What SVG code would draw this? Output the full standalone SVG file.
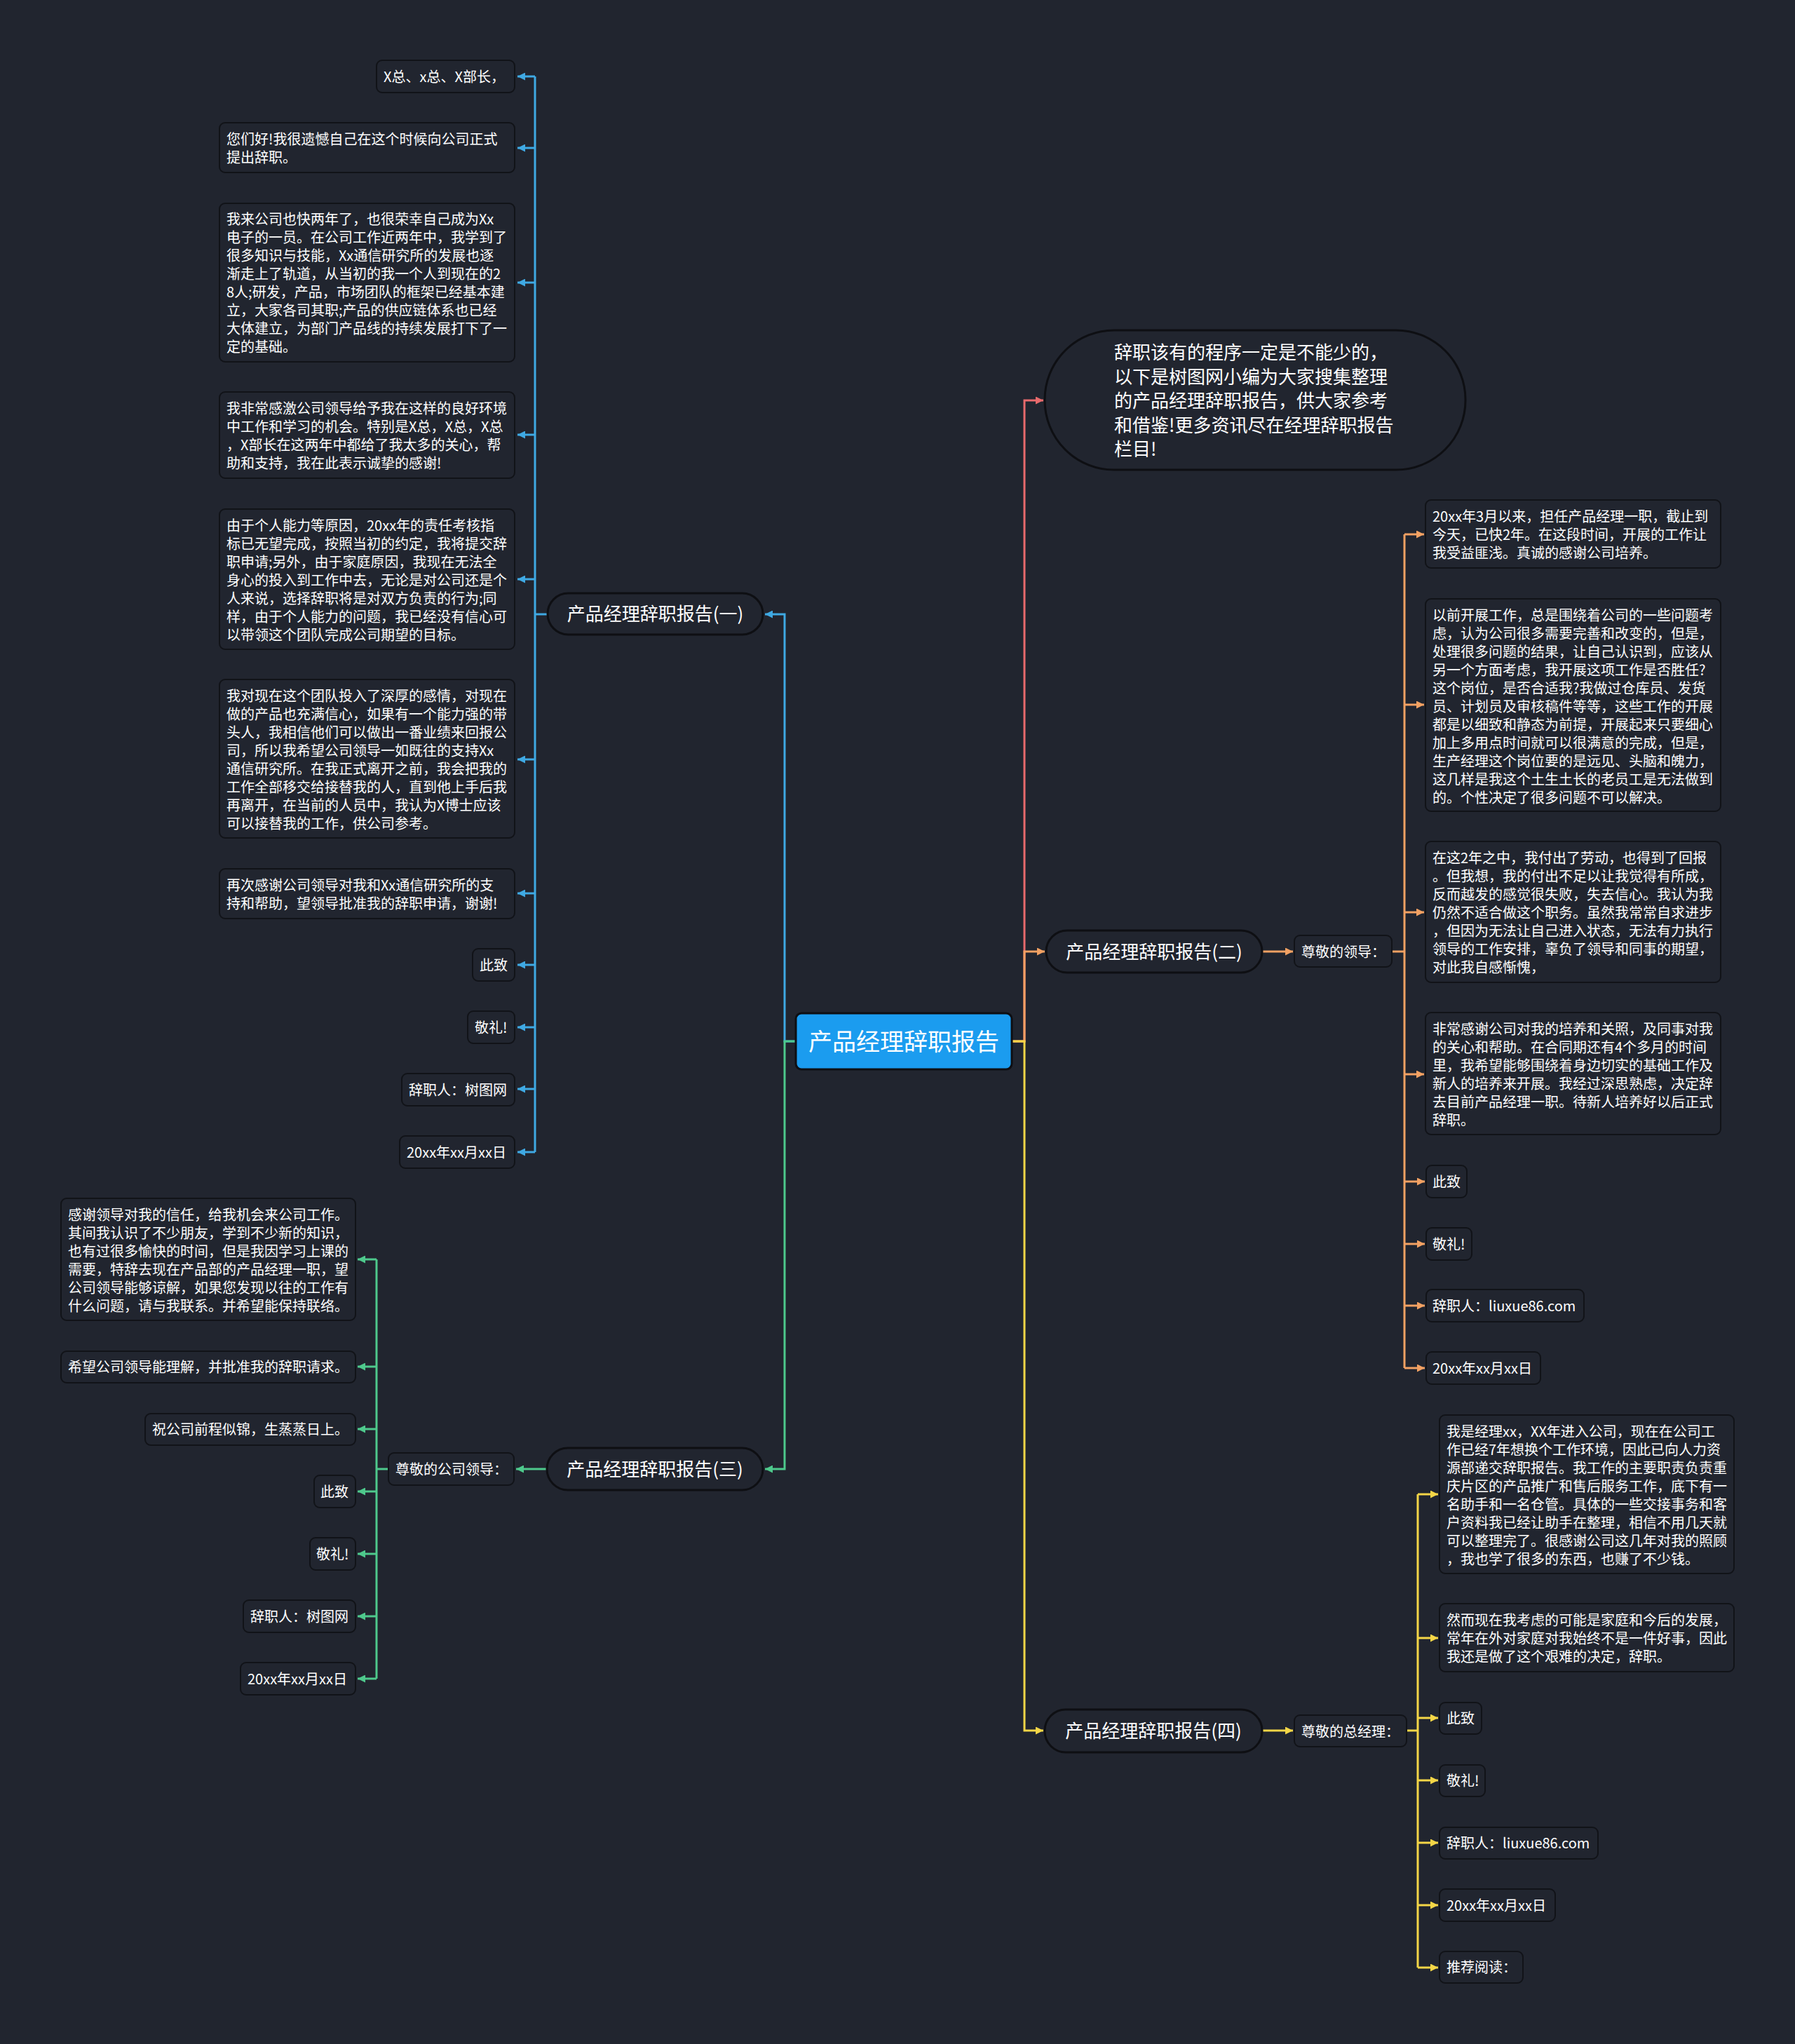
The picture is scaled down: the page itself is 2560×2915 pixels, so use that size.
<svg xmlns="http://www.w3.org/2000/svg" width="2560" height="2915" viewBox="0 0 2560 2915">
<defs>
<style>
.n rect{fill:#21252f;stroke:#111318;stroke-width:2}
.b rect{fill:#21252f;stroke:#0e0f13;stroke-width:3}
text{font-family:'Noto Sans CJK SC','Noto Sans',sans-serif;fill:#ffffff}
.t{font-size:20px}
.bt{font-size:26px;text-anchor:middle}
.c path{fill:none;stroke-width:3}
.blue{stroke:#3fa9e3}
.green{stroke:#4ec98c}
.red{stroke:#e86a6c}
.orange{stroke:#f2a163}
.yellow{stroke:#f4d647}
</style>
<marker id="ab" viewBox="0 0 10 10" refX="10" refY="5" markerWidth="11" markerHeight="11" markerUnits="userSpaceOnUse" orient="auto"><path d="M0,0 L10,5 L0,10 z" fill="#3fa9e3"/></marker>
<marker id="ag" viewBox="0 0 10 10" refX="10" refY="5" markerWidth="11" markerHeight="11" markerUnits="userSpaceOnUse" orient="auto"><path d="M0,0 L10,5 L0,10 z" fill="#4ec98c"/></marker>
<marker id="ar" viewBox="0 0 10 10" refX="10" refY="5" markerWidth="11" markerHeight="11" markerUnits="userSpaceOnUse" orient="auto"><path d="M0,0 L10,5 L0,10 z" fill="#e86a6c"/></marker>
<marker id="ao" viewBox="0 0 10 10" refX="10" refY="5" markerWidth="11" markerHeight="11" markerUnits="userSpaceOnUse" orient="auto"><path d="M0,0 L10,5 L0,10 z" fill="#f2a163"/></marker>
<marker id="ay" viewBox="0 0 10 10" refX="10" refY="5" markerWidth="11" markerHeight="11" markerUnits="userSpaceOnUse" orient="auto"><path d="M0,0 L10,5 L0,10 z" fill="#f4d647"/></marker>
</defs>
<rect x="0" y="0" width="2560" height="2915" fill="#21252f"/>

<g id="connectors" class="c">
<path class="blue" d="M1135,1485 H1119 V876 H1091" marker-end="url(#ab)"/>
<path class="blue" d="M781,876 H763"/>
<path class="blue" d="M763,109 V1643"/>
<path class="blue" d="M763,109 H738" marker-end="url(#ab)"/>
<path class="blue" d="M763,211 H738" marker-end="url(#ab)"/>
<path class="blue" d="M763,403 H738" marker-end="url(#ab)"/>
<path class="blue" d="M763,620 H738" marker-end="url(#ab)"/>
<path class="blue" d="M763,826 H738" marker-end="url(#ab)"/>
<path class="blue" d="M763,1083 H738" marker-end="url(#ab)"/>
<path class="blue" d="M763,1274 H738" marker-end="url(#ab)"/>
<path class="blue" d="M763,1376 H738" marker-end="url(#ab)"/>
<path class="blue" d="M763,1465 H738" marker-end="url(#ab)"/>
<path class="blue" d="M763,1553 H738" marker-end="url(#ab)"/>
<path class="blue" d="M763,1643 H738" marker-end="url(#ab)"/>

<path class="green" d="M1135,1485 H1119 V2095 H1091" marker-end="url(#ag)"/>
<path class="green" d="M780,2095 H736" marker-end="url(#ag)"/>
<path class="green" d="M554,2095 H537"/>
<path class="green" d="M537,1796 V2394"/>
<path class="green" d="M537,1796 H510" marker-end="url(#ag)"/>
<path class="green" d="M537,1949 H510" marker-end="url(#ag)"/>
<path class="green" d="M537,2038 H510" marker-end="url(#ag)"/>
<path class="green" d="M537,2127 H510" marker-end="url(#ag)"/>
<path class="green" d="M537,2216 H510" marker-end="url(#ag)"/>
<path class="green" d="M537,2305 H510" marker-end="url(#ag)"/>
<path class="green" d="M537,2394 H510" marker-end="url(#ag)"/>

<path class="red" d="M1443,1485 H1461 V571 H1488" marker-end="url(#ar)"/>

<path class="orange" d="M1443,1485 H1461 V1357 H1490" marker-end="url(#ao)"/>
<path class="orange" d="M1800,1357 H1844" marker-end="url(#ao)"/>
<path class="orange" d="M1985,1357 H2003"/>
<path class="orange" d="M2003,762 V1951"/>
<path class="orange" d="M2003,762 H2031" marker-end="url(#ao)"/>
<path class="orange" d="M2003,1005 H2031" marker-end="url(#ao)"/>
<path class="orange" d="M2003,1301 H2031" marker-end="url(#ao)"/>
<path class="orange" d="M2003,1532 H2031" marker-end="url(#ao)"/>
<path class="orange" d="M2003,1685 H2032" marker-end="url(#ao)"/>
<path class="orange" d="M2003,1774 H2032" marker-end="url(#ao)"/>
<path class="orange" d="M2003,1862 H2032" marker-end="url(#ao)"/>
<path class="orange" d="M2003,1951 H2032" marker-end="url(#ao)"/>

<path class="yellow" d="M1443,1485 H1461 V2468 H1488" marker-end="url(#ay)"/>
<path class="yellow" d="M1800,2468 H1844" marker-end="url(#ay)"/>
<path class="yellow" d="M2006,2468 H2022"/>
<path class="yellow" d="M2022,2131 V2806"/>
<path class="yellow" d="M2022,2131 H2051" marker-end="url(#ay)"/>
<path class="yellow" d="M2022,2336 H2051" marker-end="url(#ay)"/>
<path class="yellow" d="M2022,2450 H2051" marker-end="url(#ay)"/>
<path class="yellow" d="M2022,2539 H2051" marker-end="url(#ay)"/>
<path class="yellow" d="M2022,2628 H2051" marker-end="url(#ay)"/>
<path class="yellow" d="M2022,2717 H2051" marker-end="url(#ay)"/>
<path class="yellow" d="M2022,2806 H2051" marker-end="url(#ay)"/>
</g>

<g id="center">
<rect x="1135" y="1445" width="308" height="80" rx="8" fill="#1b9cef" stroke="#0e0f13" stroke-width="3"/>
<text x="1289" y="1498" font-size="34" text-anchor="middle">产品经理辞职报告</text>
</g>

<!-- Branch 1 -->
<g id="b1" class="b">
<rect x="781" y="846" width="307" height="59" rx="29.5"/>
<text class="bt" x="934.5" y="885">产品经理辞职报告(一)</text>
</g>
<g id="b1c1" class="n"><rect x="537" y="86" width="197" height="46" rx="8"/><text class="t" x="547" y="117">X总、x总、X部长，</text></g>
<g id="b1c2" class="n"><rect x="313" y="175" width="421" height="71" rx="8"/><text class="t" x="323" y="206"><tspan x="323">您们好!我很遗憾自己在这个时候向公司正式</tspan><tspan x="323" dy="26">提出辞职。</tspan></text></g>
<g id="b1c3" class="n"><rect x="313" y="290" width="421" height="226" rx="8"/><text class="t" x="323" y="320"><tspan x="323">我来公司也快两年了，也很荣幸自己成为Xx</tspan><tspan x="323" dy="26">电子的一员。在公司工作近两年中，我学到了</tspan><tspan x="323" dy="26">很多知识与技能，Xx通信研究所的发展也逐</tspan><tspan x="323" dy="26">渐走上了轨道，从当初的我一个人到现在的2</tspan><tspan x="323" dy="26">8人;研发，产品，市场团队的框架已经基本建</tspan><tspan x="323" dy="26">立，大家各司其职;产品的供应链体系也已经</tspan><tspan x="323" dy="26">大体建立，为部门产品线的持续发展打下了一</tspan><tspan x="323" dy="26">定的基础。</tspan></text></g>
<g id="b1c4" class="n"><rect x="313" y="559" width="421" height="123" rx="8"/><text class="t" x="323" y="590"><tspan x="323">我非常感激公司领导给予我在这样的良好环境</tspan><tspan x="323" dy="26">中工作和学习的机会。特别是X总，X总，X总</tspan><tspan x="323" dy="26">，X部长在这两年中都给了我太多的关心，帮</tspan><tspan x="323" dy="26">助和支持，我在此表示诚挚的感谢!</tspan></text></g>
<g id="b1c5" class="n"><rect x="313" y="726" width="421" height="200" rx="8"/><text class="t" x="323" y="757"><tspan x="323">由于个人能力等原因，20xx年的责任考核指</tspan><tspan x="323" dy="26">标已无望完成，按照当初的约定，我将提交辞</tspan><tspan x="323" dy="26">职申请;另外，由于家庭原因，我现在无法全</tspan><tspan x="323" dy="26">身心的投入到工作中去，无论是对公司还是个</tspan><tspan x="323" dy="26">人来说，选择辞职将是对双方负责的行为;同</tspan><tspan x="323" dy="26">样，由于个人能力的问题，我已经没有信心可</tspan><tspan x="323" dy="26">以带领这个团队完成公司期望的目标。</tspan></text></g>
<g id="b1c6" class="n"><rect x="313" y="969" width="421" height="226" rx="8"/><text class="t" x="323" y="1000"><tspan x="323">我对现在这个团队投入了深厚的感情，对现在</tspan><tspan x="323" dy="26">做的产品也充满信心，如果有一个能力强的带</tspan><tspan x="323" dy="26">头人，我相信他们可以做出一番业绩来回报公</tspan><tspan x="323" dy="26">司，所以我希望公司领导一如既往的支持Xx</tspan><tspan x="323" dy="26">通信研究所。在我正式离开之前，我会把我的</tspan><tspan x="323" dy="26">工作全部移交给接替我的人，直到他上手后我</tspan><tspan x="323" dy="26">再离开，在当前的人员中，我认为X博士应该</tspan><tspan x="323" dy="26">可以接替我的工作，供公司参考。</tspan></text></g>
<g id="b1c7" class="n"><rect x="313" y="1239" width="421" height="71" rx="8"/><text class="t" x="323" y="1270"><tspan x="323">再次感谢公司领导对我和Xx通信研究所的支</tspan><tspan x="323" dy="26">持和帮助，望领导批准我的辞职申请，谢谢!</tspan></text></g>
<g id="b1c8" class="n"><rect x="674" y="1353" width="60" height="46" rx="8"/><text class="t" x="684" y="1384">此致</text></g>
<g id="b1c9" class="n"><rect x="667" y="1442" width="67" height="46" rx="8"/><text class="t" x="677" y="1473">敬礼!</text></g>
<g id="b1c10" class="n"><rect x="573" y="1531" width="161" height="46" rx="8"/><text class="t" x="583" y="1562">辞职人：树图网</text></g>
<g id="b1c11" class="n"><rect x="570" y="1620" width="164" height="46" rx="8"/><text class="t" x="580" y="1651">20xx年xx月xx日</text></g>

<!-- Branch 3 -->
<g id="b3" class="b">
<rect x="780" y="2065" width="308" height="60" rx="30"/>
<text class="bt" x="934" y="2105">产品经理辞职报告(三)</text>
</g>
<g id="b3s" class="n"><rect x="554" y="2072" width="179" height="46" rx="8"/><text class="t" x="564" y="2103">尊敬的公司领导：</text></g>
<g id="b3c1" class="n"><rect x="87" y="1709" width="420" height="174" rx="8"/><text class="t" x="97" y="1740"><tspan x="97">感谢领导对我的信任，给我机会来公司工作。</tspan><tspan x="97" dy="26">其间我认识了不少朋友，学到不少新的知识，</tspan><tspan x="97" dy="26">也有过很多愉快的时间，但是我因学习上课的</tspan><tspan x="97" dy="26">需要，特辞去现在产品部的产品经理一职，望</tspan><tspan x="97" dy="26">公司领导能够谅解，如果您发现以往的工作有</tspan><tspan x="97" dy="26">什么问题，请与我联系。并希望能保持联络。</tspan></text></g>
<g id="b3c2" class="n"><rect x="87" y="1927" width="420" height="45" rx="8"/><text class="t" x="97" y="1957">希望公司领导能理解，并批准我的辞职请求。</text></g>
<g id="b3c3" class="n"><rect x="207" y="2016" width="300" height="45" rx="8"/><text class="t" x="217" y="2046">祝公司前程似锦，生蒸蒸日上。</text></g>
<g id="b3c4" class="n"><rect x="448" y="2104" width="59" height="46" rx="8"/><text class="t" x="457" y="2135">此致</text></g>
<g id="b3c5" class="n"><rect x="442" y="2193" width="65" height="46" rx="8"/><text class="t" x="451" y="2224">敬礼!</text></g>
<g id="b3c6" class="n"><rect x="347" y="2282" width="160" height="46" rx="8"/><text class="t" x="357" y="2313">辞职人：树图网</text></g>
<g id="b3c7" class="n"><rect x="343" y="2371" width="164" height="46" rx="8"/><text class="t" x="353" y="2402">20xx年xx月xx日</text></g>

<!-- Intro bubble -->
<g id="intro" class="b">
<rect x="1490" y="471" width="600" height="199" rx="99"/>
<text font-size="26"><tspan x="1589" y="512">辞职该有的程序一定是不能少的，</tspan><tspan x="1589" dy="34.5">以下是树图网小编为大家搜集整理</tspan><tspan x="1589" dy="34.5">的产品经理辞职报告，供大家参考</tspan><tspan x="1589" dy="34.5">和借鉴!更多资讯尽在经理辞职报告</tspan><tspan x="1589" dy="34.5">栏目!</tspan></text>
</g>

<!-- Branch 2 -->
<g id="b2" class="b">
<rect x="1492" y="1327" width="308" height="60" rx="30"/>
<text class="bt" x="1646" y="1367">产品经理辞职报告(二)</text>
</g>
<g id="b2s" class="n"><rect x="1846" y="1334" width="139" height="45" rx="8"/><text class="t" x="1856" y="1365">尊敬的领导：</text></g>
<g id="b2c1" class="n"><rect x="2033" y="713" width="421" height="97" rx="8"/><text class="t" x="2043" y="744"><tspan x="2043">20xx年3月以来，担任产品经理一职，截止到</tspan><tspan x="2043" dy="26">今天，已快2年。在这段时间，开展的工作让</tspan><tspan x="2043" dy="26">我受益匪浅。真诚的感谢公司培养。</tspan></text></g>
<g id="b2c2" class="n"><rect x="2033" y="854" width="421" height="303" rx="8"/><text class="t" x="2043" y="885"><tspan x="2043">以前开展工作，总是围绕着公司的一些问题考</tspan><tspan x="2043" dy="26">虑，认为公司很多需要完善和改变的，但是，</tspan><tspan x="2043" dy="26">处理很多问题的结果，让自己认识到，应该从</tspan><tspan x="2043" dy="26">另一个方面考虑，我开展这项工作是否胜任?</tspan><tspan x="2043" dy="26">这个岗位，是否合适我?我做过仓库员、发货</tspan><tspan x="2043" dy="26">员、计划员及审核稿件等等，这些工作的开展</tspan><tspan x="2043" dy="26">都是以细致和静态为前提，开展起来只要细心</tspan><tspan x="2043" dy="26">加上多用点时间就可以很满意的完成，但是，</tspan><tspan x="2043" dy="26">生产经理这个岗位要的是远见、头脑和魄力，</tspan><tspan x="2043" dy="26">这几样是我这个土生土长的老员工是无法做到</tspan><tspan x="2043" dy="26">的。个性决定了很多问题不可以解决。</tspan></text></g>
<g id="b2c3" class="n"><rect x="2033" y="1200" width="421" height="201" rx="8"/><text class="t" x="2043" y="1231"><tspan x="2043">在这2年之中，我付出了劳动，也得到了回报</tspan><tspan x="2043" dy="26">。但我想，我的付出不足以让我觉得有所成，</tspan><tspan x="2043" dy="26">反而越发的感觉很失败，失去信心。我认为我</tspan><tspan x="2043" dy="26">仍然不适合做这个职务。虽然我常常自求进步</tspan><tspan x="2043" dy="26">，但因为无法让自己进入状态，无法有力执行</tspan><tspan x="2043" dy="26">领导的工作安排，辜负了领导和同事的期望，</tspan><tspan x="2043" dy="26">对此我自感惭愧，</tspan></text></g>
<g id="b2c4" class="n"><rect x="2033" y="1444" width="421" height="174" rx="8"/><text class="t" x="2043" y="1475"><tspan x="2043">非常感谢公司对我的培养和关照，及同事对我</tspan><tspan x="2043" dy="26">的关心和帮助。在合同期还有4个多月的时间</tspan><tspan x="2043" dy="26">里，我希望能够围绕着身边切实的基础工作及</tspan><tspan x="2043" dy="26">新人的培养来开展。我经过深思熟虑，决定辞</tspan><tspan x="2043" dy="26">去目前产品经理一职。待新人培养好以后正式</tspan><tspan x="2043" dy="26">辞职。</tspan></text></g>
<g id="b2c5" class="n"><rect x="2034" y="1662" width="58" height="46" rx="8"/><text class="t" x="2043" y="1693">此致</text></g>
<g id="b2c6" class="n"><rect x="2034" y="1751" width="65" height="46" rx="8"/><text class="t" x="2043" y="1782">敬礼!</text></g>
<g id="b2c7" class="n"><rect x="2034" y="1839" width="225" height="46" rx="8"/><text class="t" x="2043" y="1870">辞职人：liuxue86.com</text></g>
<g id="b2c8" class="n"><rect x="2034" y="1928" width="163" height="46" rx="8"/><text class="t" x="2043" y="1959">20xx年xx月xx日</text></g>

<!-- Branch 4 -->
<g id="b4" class="b">
<rect x="1490" y="2438" width="310" height="61" rx="30"/>
<text class="bt" x="1645" y="2478">产品经理辞职报告(四)</text>
</g>
<g id="b4s" class="n"><rect x="1846" y="2446" width="160" height="45" rx="8"/><text class="t" x="1856" y="2477">尊敬的总经理：</text></g>
<g id="b4c1" class="n"><rect x="2053" y="2018" width="420" height="226" rx="8"/><text class="t" x="2063" y="2049"><tspan x="2063">我是经理xx，XX年进入公司，现在在公司工</tspan><tspan x="2063" dy="26">作已经7年想换个工作环境，因此已向人力资</tspan><tspan x="2063" dy="26">源部递交辞职报告。我工作的主要职责负责重</tspan><tspan x="2063" dy="26">庆片区的产品推广和售后服务工作，底下有一</tspan><tspan x="2063" dy="26">名助手和一名仓管。具体的一些交接事务和客</tspan><tspan x="2063" dy="26">户资料我已经让助手在整理，相信不用几天就</tspan><tspan x="2063" dy="26">可以整理完了。很感谢公司这几年对我的照顾</tspan><tspan x="2063" dy="26">，我也学了很多的东西，也赚了不少钱。</tspan></text></g>
<g id="b4c2" class="n"><rect x="2053" y="2287" width="420" height="97" rx="8"/><text class="t" x="2063" y="2318"><tspan x="2063">然而现在我考虑的可能是家庭和今后的发展，</tspan><tspan x="2063" dy="26">常年在外对家庭对我始终不是一件好事，因此</tspan><tspan x="2063" dy="26">我还是做了这个艰难的决定，辞职。</tspan></text></g>
<g id="b4c3" class="n"><rect x="2053" y="2428" width="60" height="45" rx="8"/><text class="t" x="2063" y="2458">此致</text></g>
<g id="b4c4" class="n"><rect x="2053" y="2517" width="65" height="45" rx="8"/><text class="t" x="2063" y="2547">敬礼!</text></g>
<g id="b4c5" class="n"><rect x="2053" y="2606" width="226" height="45" rx="8"/><text class="t" x="2063" y="2636">辞职人：liuxue86.com</text></g>
<g id="b4c6" class="n"><rect x="2053" y="2694" width="165" height="46" rx="8"/><text class="t" x="2063" y="2725">20xx年xx月xx日</text></g>
<g id="b4c7" class="n"><rect x="2053" y="2783" width="119" height="45" rx="8"/><text class="t" x="2063" y="2813">推荐阅读：</text></g>
</svg>
